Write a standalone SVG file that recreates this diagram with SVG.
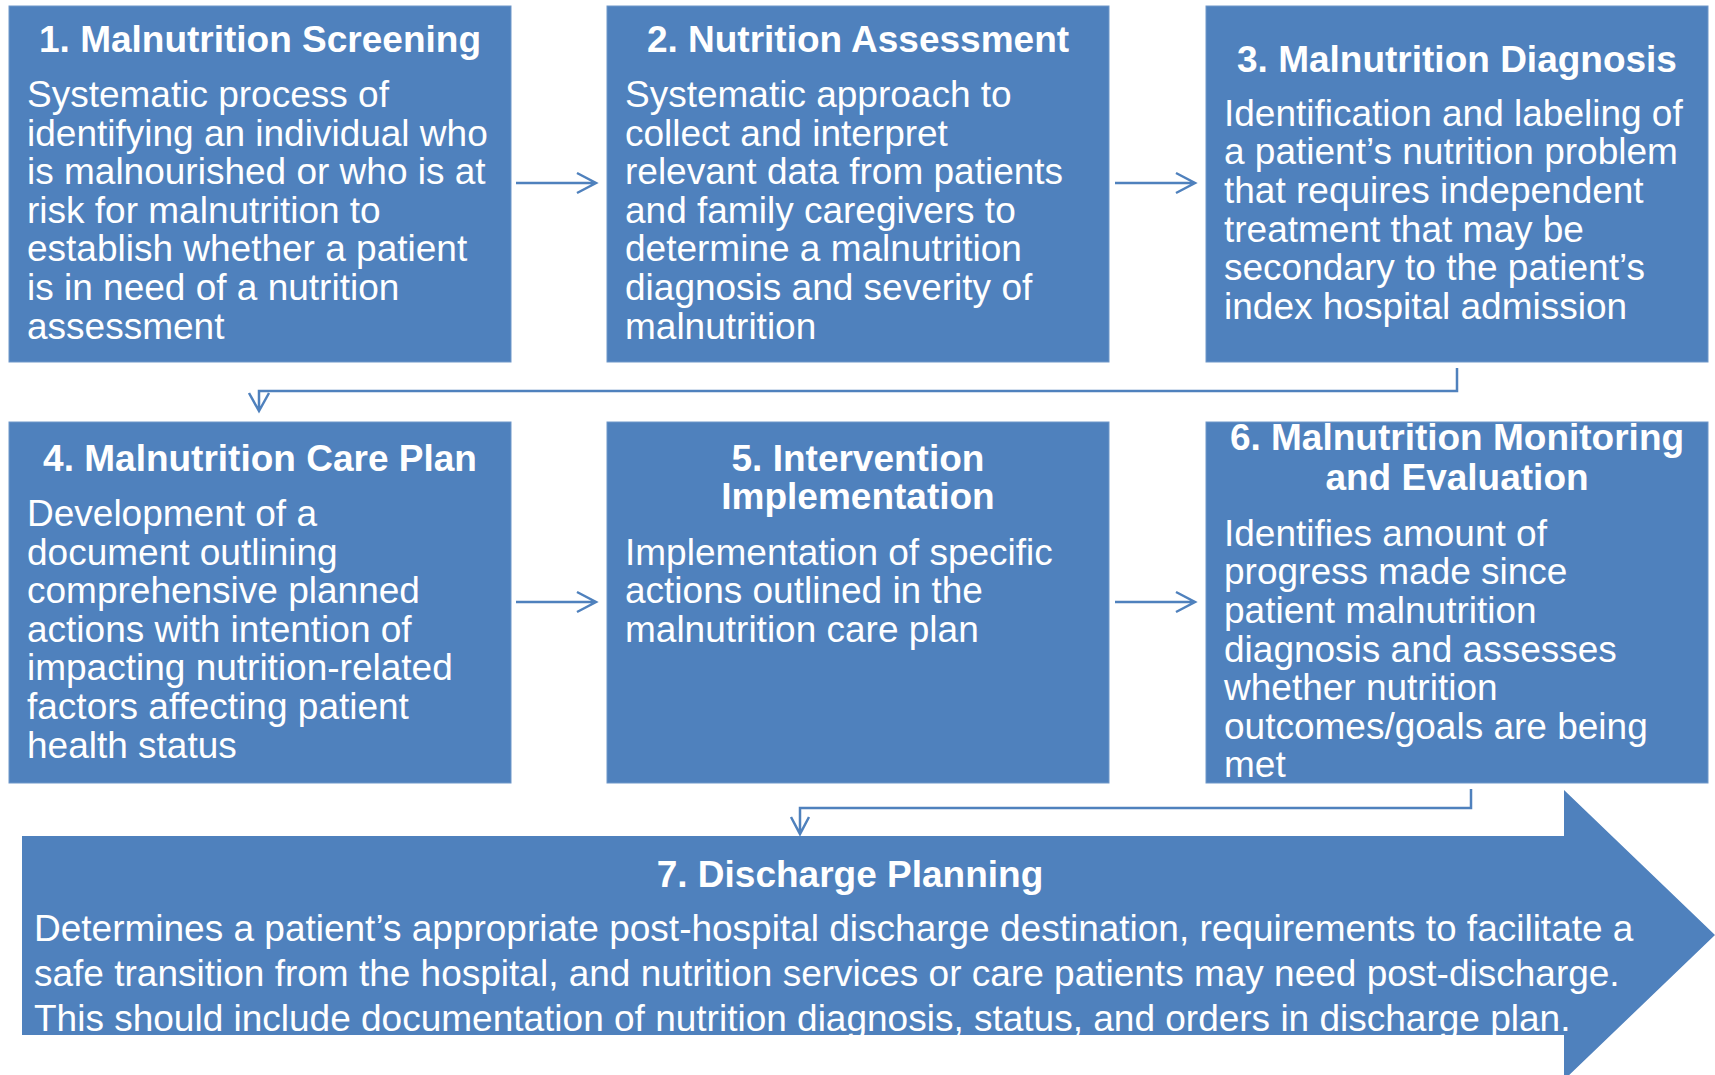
<svg xmlns="http://www.w3.org/2000/svg" width="1715" height="1075" viewBox="0 0 1715 1075">
<style>
.box{fill:#4F81BD;stroke:#6f97c9;stroke-width:1}
.t{font-family:"Liberation Sans",Arial,sans-serif;font-size:37px;font-weight:bold;fill:#fff;text-anchor:middle}
.b{font-family:"Liberation Sans",Arial,sans-serif;font-size:37px;fill:#fff}
.c{fill:none;stroke:#4F81BD;stroke-width:2.5}
</style>
<rect width="1715" height="1075" fill="#fff"/>
<g id="node1">
<rect class="box" x="9" y="6" width="502" height="356"/>
<text class="t" x="260" y="52">1. Malnutrition Screening</text>
<text class="b" x="27" y="107">Systematic process of</text>
<text class="b" x="27" y="145.6">identifying an individual who</text>
<text class="b" x="27" y="184.2">is malnourished or who is at</text>
<text class="b" x="27" y="222.8">risk for malnutrition to</text>
<text class="b" x="27" y="261.4">establish whether a patient</text>
<text class="b" x="27" y="300">is in need of a nutrition</text>
<text class="b" x="27" y="338.6">assessment</text>
</g>
<g id="node2">
<rect class="box" x="607" y="6" width="502" height="356"/>
<text class="t" x="858" y="52">2. Nutrition Assessment</text>
<text class="b" x="625" y="107">Systematic approach to</text>
<text class="b" x="625" y="145.6">collect and interpret</text>
<text class="b" x="625" y="184.2">relevant data from patients</text>
<text class="b" x="625" y="222.8">and family caregivers to</text>
<text class="b" x="625" y="261.4">determine a malnutrition</text>
<text class="b" x="625" y="300">diagnosis and severity of</text>
<text class="b" x="625" y="338.6">malnutrition</text>
</g>
<g id="node3">
<rect class="box" x="1206" y="6" width="502" height="356"/>
<text class="t" x="1457" y="72">3. Malnutrition Diagnosis</text>
<text class="b" x="1224" y="125.7">Identification and labeling of</text>
<text class="b" x="1224" y="164.3">a patient’s nutrition problem</text>
<text class="b" x="1224" y="202.9">that requires independent</text>
<text class="b" x="1224" y="241.5">treatment that may be</text>
<text class="b" x="1224" y="280.1">secondary to the patient’s</text>
<text class="b" x="1224" y="318.7">index hospital admission</text>
</g>
<g id="node4">
<rect class="box" x="9" y="422" width="502" height="361"/>
<text class="t" x="260" y="471">4. Malnutrition Care Plan</text>
<text class="b" x="27" y="526">Development of a</text>
<text class="b" x="27" y="564.6">document outlining</text>
<text class="b" x="27" y="603.2">comprehensive planned</text>
<text class="b" x="27" y="641.8">actions with intention of</text>
<text class="b" x="27" y="680.4">impacting nutrition-related</text>
<text class="b" x="27" y="719">factors affecting patient</text>
<text class="b" x="27" y="757.6">health status</text>
</g>
<g id="node5">
<rect class="box" x="607" y="422" width="502" height="361"/>
<text class="t" x="858" y="471">5. Intervention</text>
<text class="t" x="858" y="509">Implementation</text>
<text class="b" x="625" y="564.6">Implementation of specific</text>
<text class="b" x="625" y="603.2">actions outlined in the</text>
<text class="b" x="625" y="641.8">malnutrition care plan</text>
</g>
<g id="node6">
<rect class="box" x="1206" y="422" width="502" height="361"/>
<text class="t" x="1457" y="450">6. Malnutrition Monitoring</text>
<text class="t" x="1457" y="489.6">and Evaluation</text>
<text class="b" x="1224" y="545.7">Identifies amount of</text>
<text class="b" x="1224" y="584.3">progress made since</text>
<text class="b" x="1224" y="622.9">patient malnutrition</text>
<text class="b" x="1224" y="661.5">diagnosis and assesses</text>
<text class="b" x="1224" y="700.1">whether nutrition</text>
<text class="b" x="1224" y="738.7">outcomes/goals are being</text>
<text class="b" x="1224" y="777.3">met</text>
</g>
<g id="node7">
<polygon points="22,836 1564,836 1564,790 1715,935 1564,1080 1564,1035 22,1035" fill="#4F81BD"/>
<text class="t" x="850" y="887">7. Discharge Planning</text>
<text class="b" x="34" y="941">Determines a patient’s appropriate post-hospital discharge destination, requirements to facilitate a</text>
<text class="b" x="34" y="986">safe transition from the hospital, and nutrition services or care patients may need post-discharge.</text>
<text class="b" x="34" y="1030.5">This should include documentation of nutrition diagnosis, status, and orders in discharge plan.</text>
</g>
<g id="connectors">
<path class="c" d="M516,183 H596 M577,173 L596,183 L577,193"/>
<path class="c" d="M1115,183 H1195 M1176,173 L1195,183 L1176,193"/>
<path class="c" d="M516,602 H596 M577,592 L596,602 L577,612"/>
<path class="c" d="M1115,602 H1195 M1176,592 L1195,602 L1176,612"/>
<path class="c" d="M1457,368 V391 H259 V411 M249,393 L259,411 L269,393"/>
<path class="c" d="M1471,789 V808 H800 V834 M791,817 L800,834 L809,817"/>
</g>
</svg>
